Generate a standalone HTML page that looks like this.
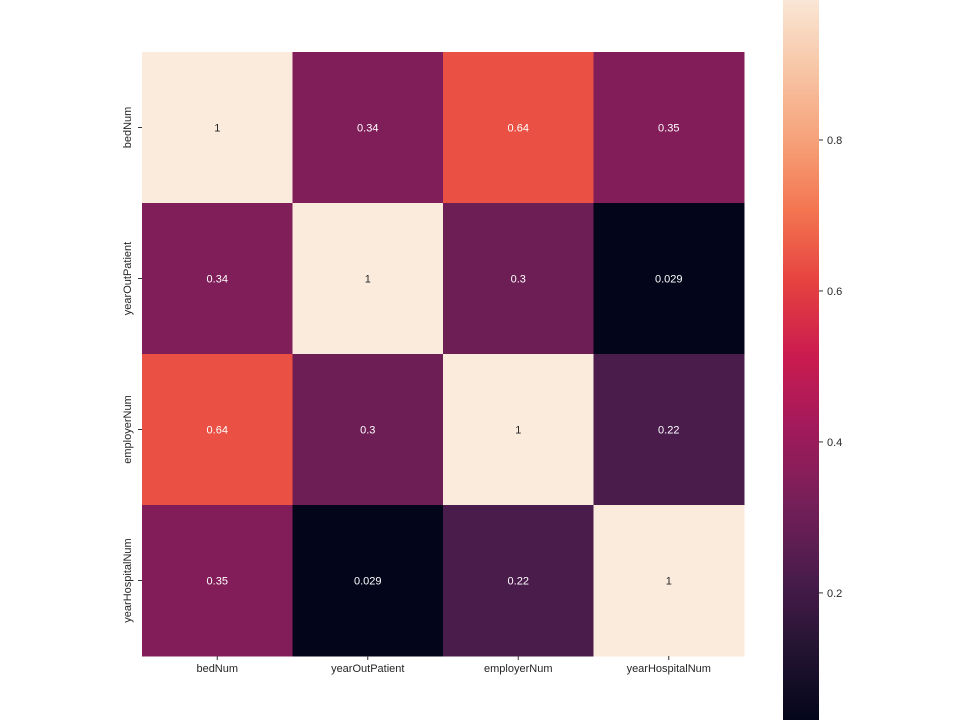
<!DOCTYPE html>
<html><head><meta charset="utf-8"><style>
body{margin:0;background:#fff;}
svg{display:block;font-family:"Liberation Sans","DejaVu Sans",sans-serif;}
</style></head><body>
<svg id="chart" width="964" height="726" viewBox="0 0 964 726">
<defs><linearGradient id="cbgrad" x1="0" y1="1" x2="0" y2="0"></linearGradient></defs>
<g id="cells"></g>
<g id="xlabels"></g>
<g id="ylabels"></g>
<g id="colorbar"></g>
</svg>
<script>
const categories = ["bedNum","yearOutPatient","employerNum","yearHospitalNum"];
const row0 = [1, 0.34, 0.64, 0.35];
const row1 = [0.34, 1, 0.3, 0.029];
const row2 = [0.64, 0.3, 1, 0.22];
const row3 = [0.35, 0.029, 0.22, 1];
const cbTicks = [0.2, 0.4, 0.6, 0.8];
const vmin = 0.029, vmax = 1;

const matrix = [row0,row1,row2,row3];
const NS = "http://www.w3.org/2000/svg";
const X0=142, X1=744, Y0=52, Y1=656;
const cw=(X1-X0)/categories.length, ch=(Y1-Y0)/categories.length;
const xPos = i => X0 + i*cw;
const yPos = i => Y0 + i*ch;
const stops = [[0,"#03051a"],[0.1,"#241432"],[0.2,"#4b1c4c"],[0.3,"#761f58"],[0.4,"#a11a5b"],[0.5,"#cb1b4f"],[0.6,"#e6423f"],[0.7,"#f37651"],[0.8,"#f6a47c"],[0.9,"#f7c9aa"],[1,"#faebdd"]];
function hex(h){return [1,3,5].map(i=>parseInt(h.substr(i,2),16));}
function cmap(v){
  let t=Math.max(0,Math.min(1,(v-vmin)/(vmax-vmin)));
  for(let i=1;i<stops.length;i++){
    if(t<=stops[i][0]){
      const a=stops[i-1],b=stops[i],f=(t-a[0])/(b[0]-a[0]);
      const ca=hex(a[1]),cb=hex(b[1]);
      return "rgb("+ca.map((c,k)=>Math.round(c+(cb[k]-c)*f)).join(",")+")";
    }
  }
  return stops[stops.length-1][1];
}
function fmt(v){return String(Number(v.toPrecision(2)));}
function mk(tag,attrs,parent,text){
  const e=document.createElementNS(NS,tag);
  for(const k in attrs) e.setAttribute(k,attrs[k]);
  if(text!==undefined) e.textContent=text;
  parent.appendChild(e); return e;
}
const cells=document.getElementById("cells");
matrix.forEach((row,r)=>row.forEach((v,c)=>{
  const rect=mk("rect",{x:xPos(c),y:yPos(r),width:cw+0.5,height:ch+0.5,fill:cmap(v)},cells);
  
  
  const t=(v-vmin)/(vmax-vmin);
  const tx=mk("text",{x:xPos(c)+cw/2,y:yPos(r)+ch/2+4,"text-anchor":"middle","font-size":"11",fill:t>0.75?"#262626":"#ffffff"},cells,fmt(v));
  
  
}));
const xl=document.getElementById("xlabels"), yl=document.getElementById("ylabels");
categories.forEach((c,i)=>{
  const cx=xPos(i)+cw/2;
  mk("line",{x1:cx,x2:cx,y1:Y1,y2:Y1+4,stroke:"#333"},xl);
  const t=mk("text",{x:cx,y:Y1+16,"text-anchor":"middle","font-size":"11",fill:"#262626"},xl,c);
  
  
  const cy=yPos(i)+ch/2;
  mk("line",{x1:X0-4,x2:X0,y1:cy,y2:cy,stroke:"#333"},yl);
  const u=mk("text",{x:0,y:0,"text-anchor":"middle","font-size":"11",fill:"#262626",transform:"translate("+(X0-11)+","+cy+") rotate(-90)"},yl,c);
  
  
});
const cb=document.getElementById("colorbar");
const CBX=783, CBW=36, CBTOP=-11, CBBOT=722;
const cbY = v => CBBOT - (v-vmin)/(vmax-vmin)*(CBBOT-CBTOP);
const grad=document.getElementById("cbgrad");
for(let i=0;i<=40;i++){
  const v=vmin+(vmax-vmin)*i/40;
  mk("stop",{offset:(i/40),"stop-color":cmap(v)},grad);
}
mk("rect",{x:CBX,y:CBTOP,width:CBW,height:CBBOT-CBTOP,fill:"url(#cbgrad)"},cb);
mk("rect",{x:CBX-1,y:720,width:CBW+2,height:10,fill:"#fff"},cb);
cbTicks.forEach(v=>{
  const y=cbY(v);
  mk("line",{x1:CBX+CBW,x2:CBX+CBW+4,y1:y,y2:y,stroke:"#333"},cb);
  const t=mk("text",{x:CBX+CBW+8,y:y+4,"font-size":"11",fill:"#262626"},cb,String(v));
  
  
});
</script>
</body></html>
